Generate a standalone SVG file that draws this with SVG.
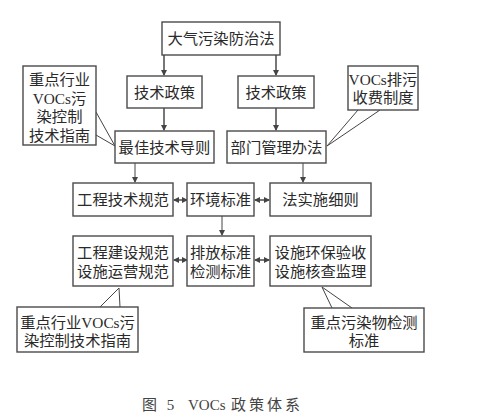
<svg xmlns="http://www.w3.org/2000/svg" width="485" height="420" viewBox="0 0 485 420">
<style>
.box{fill:#fff;stroke:#4a4a4a;stroke-width:1.4}
.t{font-family:"Liberation Serif","Noto Sans CJK SC",serif;font-size:15.3px;fill:#2a2a2a;text-anchor:middle;dominant-baseline:central}
.ln{stroke:#555;stroke-width:1.6;fill:none}
.cl{stroke:#444;stroke-width:1;fill:none}
.cap{font-family:"Liberation Serif","Noto Sans CJK SC",serif;font-size:15px;fill:#444}
</style>
<defs>
<marker id="ah" markerWidth="6" markerHeight="6" refX="5" refY="3" orient="auto" markerUnits="userSpaceOnUse">
<path d="M0,0 L6,3 L0,6 Z" fill="#444"/>
</marker>
<marker id="as" markerWidth="6" markerHeight="6" refX="1" refY="3" orient="auto" markerUnits="userSpaceOnUse">
<path d="M6,0 L0,3 L6,6 Z" fill="#444"/>
</marker>
</defs>
<rect width="485" height="420" fill="#fff"/>

<g id="connectors">
<line class="ln" x1="164" y1="55" x2="164" y2="75" marker-end="url(#ah)"/>
<line class="ln" x1="276" y1="55" x2="276" y2="75" marker-end="url(#ah)"/>
<line class="ln" x1="164" y1="108" x2="164" y2="130" marker-end="url(#ah)"/>
<line class="ln" x1="276" y1="108" x2="276" y2="130" marker-end="url(#ah)"/>
<line class="cl" x1="135" y1="163" x2="135" y2="182" marker-end="url(#ah)"/>
<line class="cl" x1="303" y1="163" x2="303" y2="182" marker-end="url(#ah)"/>
<line class="cl" x1="222" y1="216" x2="222" y2="235" marker-end="url(#ah)"/>
<line class="ln" x1="174" y1="200" x2="187" y2="200" marker-start="url(#as)" marker-end="url(#ah)"/>
<line class="ln" x1="255" y1="200" x2="269" y2="200" marker-start="url(#as)" marker-end="url(#ah)"/>
<line class="ln" x1="174" y1="260" x2="187" y2="260" marker-start="url(#as)" marker-end="url(#ah)"/>
<line class="ln" x1="255" y1="260" x2="269" y2="260" marker-start="url(#as)" marker-end="url(#ah)"/>
<polyline class="cl" points="96,112 115,146 96,135"/>
<polyline class="cl" points="358,110 327,146 380,110"/>
<polyline class="cl" points="100,307 119,288 120,307"/>
<polyline class="cl" points="332,308 322,287 352,308"/>
</g>

<g id="n_law"><rect class="box" x="162" y="22" width="118" height="33"/><text class="t" x="221" y="38.5">大气污染防治法</text></g>
<g id="n_tp1"><rect class="box" x="127" y="76" width="75" height="32"/><text class="t" x="164.5" y="92">技术政策</text></g>
<g id="n_tp2"><rect class="box" x="238" y="76" width="76" height="32"/><text class="t" x="276" y="92">技术政策</text></g>
<g id="n_guide"><rect class="box" x="23" y="66" width="73" height="79"/>
<text class="t" x="59.5" y="79">重点行业</text><text class="t" x="59.5" y="98">VOCs污</text><text class="t" x="59.5" y="116">染控制</text><text class="t" x="59.5" y="135">技术指南</text></g>
<g id="n_fee"><rect class="box" x="348" y="66" width="70" height="44"/>
<text class="t" x="383" y="79">VOCs排污</text><text class="t" x="383" y="97">收费制度</text></g>
<g id="n_best"><rect class="box" x="115" y="131" width="99" height="32"/><text class="t" x="164.5" y="147">最佳技术导则</text></g>
<g id="n_dept"><rect class="box" x="227" y="131" width="99" height="32"/><text class="t" x="276.5" y="147">部门管理办法</text></g>
<g id="n_eng"><rect class="box" x="73" y="183" width="100" height="33"/><text class="t" x="123" y="199.5">工程技术规范</text></g>
<g id="n_env"><rect class="box" x="187" y="183" width="67" height="33"/><text class="t" x="220.5" y="199.5">环境标准</text></g>
<g id="n_rule"><rect class="box" x="270" y="183" width="101" height="33"/><text class="t" x="320.5" y="199.5">法实施细则</text></g>
<g id="n_build"><rect class="box" x="73" y="236" width="100" height="50"/>
<text class="t" x="123" y="252">工程建设规范</text><text class="t" x="123" y="271">设施运营规范</text></g>
<g id="n_emit"><rect class="box" x="187" y="236" width="67" height="50"/>
<text class="t" x="220.5" y="252">排放标准</text><text class="t" x="220.5" y="271">检测标准</text></g>
<g id="n_check"><rect class="box" x="270" y="236" width="101" height="50"/>
<text class="t" x="320.5" y="252">设施环保验收</text><text class="t" x="320.5" y="271">设施核查监理</text></g>
<g id="n_guide2"><rect class="box" x="17" y="307" width="121" height="45"/>
<text class="t" x="77.5" y="322">重点行业VOCs污</text><text class="t" x="77.5" y="340">染控制技术指南</text></g>
<g id="n_detect"><rect class="box" x="304" y="308" width="120" height="44"/>
<text class="t" x="364" y="322">重点污染物检测</text><text class="t" x="364" y="340">标准</text></g>

<text class="cap" y="410"><tspan x="142" letter-spacing="3">图 5</tspan><tspan x="188">VOCs</tspan><tspan x="231" letter-spacing="3">政策体系</tspan></text>
</svg>
